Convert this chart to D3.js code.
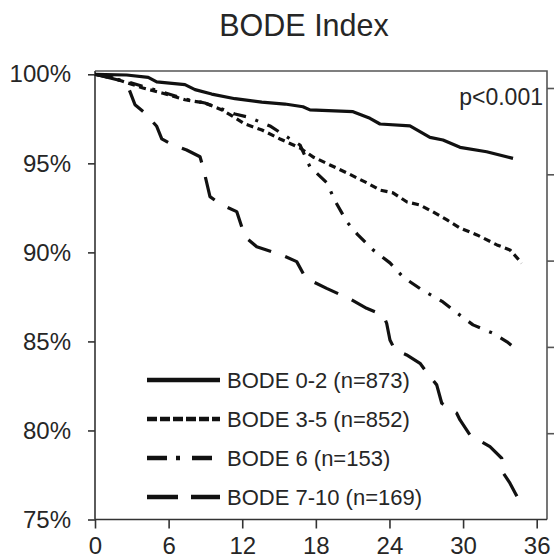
<!DOCTYPE html>
<html>
<head>
<meta charset="utf-8">
<script src="https://cdn.jsdelivr.net/npm/d3@7"></script>
<style>
  html, body { margin: 0; padding: 0; background: #fff; }
  svg { display: block; }
  text { font-family: "Liberation Sans", Arial, Helvetica, sans-serif; fill: #262626; }
</style>
</head>
<body>
<svg id="chart" width="554" height="558"></svg>
<script>
// ---- Data (months, survival %) ----
const seriesNames = ["BODE 0-2 (n=873)", "BODE 3-5 (n=852)", "BODE 6 (n=153)", "BODE 7-10 (n=169)"];

const bode02Months = [0, 2.58, 4.34, 5.03, 7.33, 8.15, 9.51, 11.41, 13.59, 15.48, 16.95, 17.52, 21.03, 22.41, 23.23, 25.67, 27.30, 28.36, 29.75, 31.92, 34.07];
const bode02Surv   = [100, 99.96, 99.83, 99.57, 99.42, 99.14, 98.89, 98.63, 98.44, 98.33, 98.18, 98.00, 97.90, 97.53, 97.21, 97.10, 96.46, 96.31, 95.90, 95.65, 95.28];

const bode35Months = [0, 1.22, 2.69, 3.91, 5.46, 7.33, 8.96, 10.35, 11.17, 12.22, 13.61, 15.08, 16.71, 17.77, 19.15, 20.54, 22.17, 23.23, 24.29, 25.43, 26.49, 27.55, 28.69, 29.75, 31.13, 32.76, 33.82, 34.78];
const bode35Surv   = [100, 99.85, 99.51, 99.23, 98.95, 98.57, 98.39, 98.00, 97.66, 97.21, 96.87, 96.37, 95.86, 95.36, 94.91, 94.46, 93.90, 93.50, 93.34, 92.83, 92.66, 92.27, 91.82, 91.37, 90.98, 90.42, 90.14, 89.40];

const bode6Months = [0, 2.69, 5.46, 7.33, 8.96, 10.35, 11.41, 12.47, 14.26, 15.65, 16.71, 17.52, 18.91, 19.56, 20.54, 21.43, 22.66, 24.04, 25.10, 26.65, 28.36, 29.50, 30.81, 32.36, 33.58, 34.39];
const bode6Surv   = [100, 99.57, 99.01, 98.61, 98.39, 98.05, 97.77, 97.60, 97.10, 96.48, 96.03, 94.80, 93.90, 92.89, 91.71, 90.98, 90.14, 89.41, 88.62, 87.89, 87.22, 86.60, 85.93, 85.48, 84.98, 84.53];

const bode710Months = [0, 2.53, 2.85, 3.26, 4.07, 5.03, 5.44, 6.36, 7.47, 8.56, 8.83, 9.37, 10.19, 11.55, 12.22, 13.18, 15.22, 16.44, 17.11, 17.79, 18.88, 20.92, 22.14, 23.50, 23.77, 24.04, 24.45, 25.40, 26.49, 27.30, 27.85, 28.26, 29.48, 29.75, 30.56, 32.19, 33.15, 33.28, 33.82, 34.50];
const bode710Surv   = [100, 99.57, 99.03, 98.29, 97.83, 97.08, 96.37, 96.03, 95.75, 95.37, 94.72, 93.13, 92.72, 92.29, 90.88, 90.32, 89.85, 89.48, 88.64, 88.35, 87.98, 87.33, 86.86, 86.48, 86.02, 85.08, 84.52, 84.24, 83.77, 83.02, 82.56, 81.53, 80.97, 80.59, 79.75, 79.09, 78.44, 77.60, 77.04, 76.15];

const xTicks = [0, 6, 12, 18, 24, 30, 36];
const yTicks = [75, 80, 85, 90, 95, 100];
const rightTicks = [0, 1, 2, 3, 4, 5];
const titleText = "BODE Index";
const pText = "p<0.001";

// ---- Layout ----
const svg = d3.select("#chart");
const plotLeft = 95, plotRight = 547, plotTop = 71, plotBottom = 519.5;

const x = d3.scaleLinear().domain([0, 36]).range([plotLeft, 536.7]);
const y = d3.scaleLinear().domain([75, 100]).range([plotBottom, 74.3]);
const yRight = d3.scaleLinear().domain([0, 5]).range([plotBottom, 88]);

// Title
svg.append("text")
  .attr("x", 304).attr("y", 36)
  .attr("text-anchor", "middle")
  .style("font-size", "30.5px")
  .text(titleText);

// Frame (top & right)
svg.append("path")
  .attr("d", `M${plotLeft},${plotTop}H${plotRight}V${plotBottom}`)
  .attr("fill", "none").attr("stroke", "#555").attr("stroke-width", 1.6);

// Left axis
const yAxis = svg.append("g")
  .attr("transform", `translate(${plotLeft},0)`)
  .call(d3.axisLeft(y).tickValues(yTicks).tickSize(7).tickPadding(17).tickFormat(d => d + "%"));
yAxis.select(".domain").remove();
yAxis.append("line").attr("x1", 0).attr("x2", 0).attr("y1", plotTop).attr("y2", plotBottom)
  .attr("stroke", "#333").attr("stroke-width", 1.6);
yAxis.selectAll(".tick line").attr("stroke", "#333").attr("stroke-width", 1.6);
yAxis.selectAll(".tick text").style("font-size", "24px").attr("fill", "#262626");

// Bottom axis
const xAxis = svg.append("g")
  .attr("transform", `translate(0,${plotBottom})`)
  .call(d3.axisBottom(x).tickValues(xTicks).tickSize(9).tickPadding(8.5));
xAxis.select(".domain").remove();
xAxis.append("line").attr("x1", plotLeft).attr("x2", plotRight).attr("y1", 0).attr("y2", 0)
  .attr("stroke", "#333").attr("stroke-width", 1.6);
xAxis.selectAll(".tick line").attr("stroke", "#333").attr("stroke-width", 1.6);
xAxis.selectAll(".tick text").style("font-size", "24px").attr("fill", "#262626");

// Right axis (ticks only)
const rAxis = svg.append("g")
  .attr("transform", `translate(${plotRight},0)`)
  .call(d3.axisRight(yRight).tickValues(rightTicks.slice(1)).tickSize(7).tickFormat(""));
rAxis.select(".domain").remove();
rAxis.selectAll(".tick line").attr("stroke", "#555").attr("stroke-width", 1.6);

// Curves
const series = [
  { name: seriesNames[0], m: bode02Months,  s: bode02Surv,  dash: null,           legendDash: null },
  { name: seriesNames[1], m: bode35Months,  s: bode35Surv,  dash: "7,4.5",        legendDash: "10,3" },
  { name: seriesNames[2], m: bode6Months,   s: bode6Surv,   dash: "13,10,3,10",   legendDash: "20,9,4,12,20" },
  { name: seriesNames[3], m: bode710Months, s: bode710Surv, dash: "26,15",        legendDash: "31,13,29" }
];

const line = d3.line().x(d => x(d[0])).y(d => y(d[1]));

series.forEach(sr => {
  const pts = sr.m.map((mm, i) => [mm, sr.s[i]]);
  svg.append("path")
    .datum(pts)
    .attr("d", line)
    .attr("fill", "none")
    .attr("stroke", "#111")
    .attr("stroke-width", 3.2)
    .attr("stroke-linejoin", "round")
    .attr("stroke-dasharray", sr.dash);
});

// p-value
svg.append("text")
  .attr("x", 543).attr("y", 105)
  .attr("text-anchor", "end")
  .style("font-size", "23px")
  .text(pText);

// Legend
const legendRows = [380, 419, 458, 497];
series.forEach((sr, i) => {
  const g = svg.append("g").attr("transform", `translate(0,${legendRows[i]})`);
  g.append("line")
    .attr("x1", 147).attr("x2", 220).attr("y1", 0).attr("y2", 0)
    .attr("stroke", "#111").attr("stroke-width", 4.5)
    .attr("stroke-dasharray", sr.legendDash);
  g.append("text")
    .attr("x", 227).attr("y", 8)
    .style("font-size", "22px")
    .text(sr.name);
});
</script>
</body>
</html>
